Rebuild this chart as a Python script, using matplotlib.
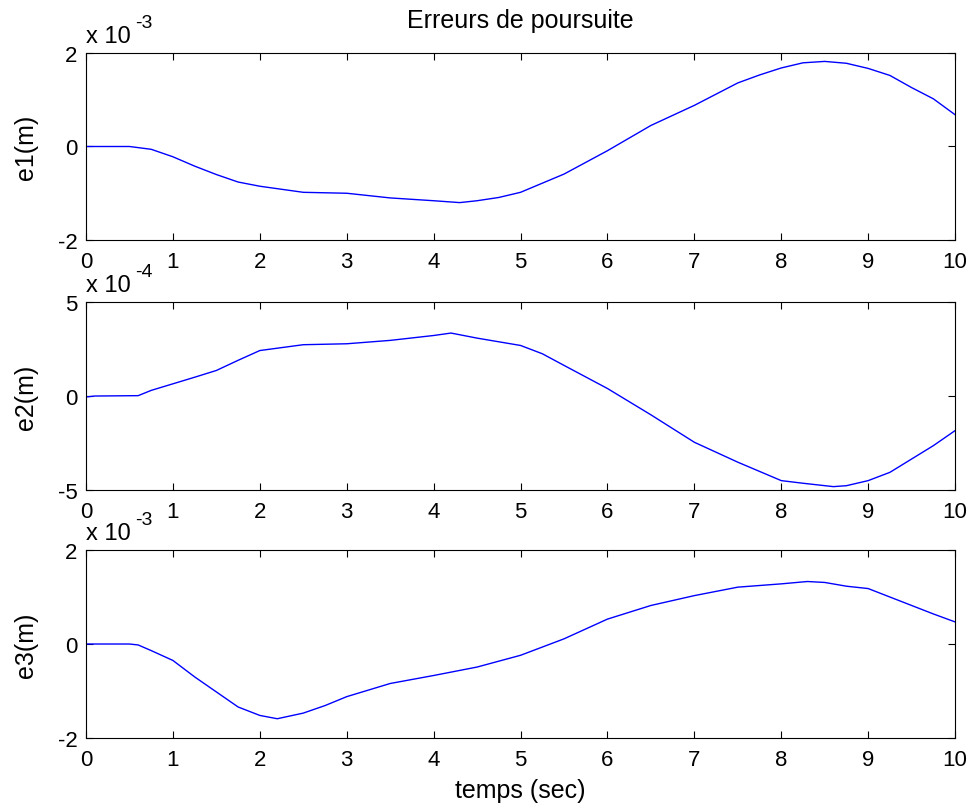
import matplotlib
matplotlib.use("Agg")
import matplotlib.pyplot as plt

plt.rcParams['font.family'] = ['Liberation Sans', 'DejaVu Sans']
plt.rcParams['axes.unicode_minus'] = False

# tracking errors, y values in units of the scale factor shown on each axis
t1 = [0, 0.5, 0.75, 1, 1.25, 1.5, 1.75, 2, 2.5, 3, 3.5, 4, 4.3, 4.5, 4.75, 5, 5.5, 6, 6.5, 7, 7.5,
      7.75, 8, 8.25, 8.5, 8.75, 9, 9.25, 9.5, 9.75, 10]
e1 = [0, 0, -0.06, -0.22, -0.42, -0.6, -0.76, -0.85, -0.98, -1.0, -1.1, -1.16, -1.2, -1.16, -1.09,
      -0.98, -0.59, -0.09, 0.45, 0.88, 1.36, 1.53, 1.68, 1.79, 1.82, 1.78, 1.67, 1.52, 1.26, 1.02, 0.68]

t2 = [0, 0.1, 0.6, 0.75, 1, 1.25, 1.5, 1.75, 2, 2.5, 3, 3.5, 4, 4.2, 4.5, 5, 5.25, 5.5, 6, 6.5, 7,
      7.5, 8, 8.25, 8.6, 8.75, 9, 9.25, 9.5, 9.75, 10]
e2 = [-0.05, 0, 0.02, 0.3, 0.65, 1.0, 1.36, 1.9, 2.42, 2.73, 2.78, 2.96, 3.22, 3.35, 3.08, 2.69, 2.25,
      1.63, 0.4, -1.0, -2.46, -3.52, -4.5, -4.64, -4.82, -4.77, -4.5, -4.06, -3.35, -2.64, -1.84]

t3 = [0, 0.5, 0.6, 0.75, 1, 1.25, 1.5, 1.75, 2, 2.2, 2.5, 2.75, 3, 3.5, 4, 4.5, 5, 5.5, 6, 6.5, 7,
      7.5, 8, 8.3, 8.5, 8.75, 9, 9.25, 9.5, 9.75, 10]
e3 = [0, 0, -0.02, -0.14, -0.35, -0.7, -1.02, -1.34, -1.52, -1.59, -1.47, -1.31, -1.12, -0.84, -0.67,
      -0.49, -0.24, 0.11, 0.53, 0.82, 1.03, 1.21, 1.28, 1.33, 1.31, 1.23, 1.18, 1.0, 0.82, 0.64, 0.47]

series = [(t1, e1, 'e1(m)', 2, '-3'), (t2, e2, 'e2(m)', 5, '-4'), (t3, e3, 'e3(m)', 2, '-3')]
positions = [[0.0886, 0.7032, 0.895, 0.2303],
             [0.0886, 0.3953, 0.895, 0.2315],
             [0.0886, 0.0899, 0.895, 0.2315]]

fig = plt.figure(figsize=(9.71, 8.12), dpi=100)
axes = []
for (t, e, label, lim, expo), pos in zip(series, positions):
    ax = fig.add_axes(pos)
    ax.plot(t, e, color='#0000ff', lw=1.0)
    ax.set_xlim(0, 10)
    ax.set_ylim(-lim, lim)
    ax.set_xticks(range(11))
    ax.set_yticks([-lim, 0, lim])
    ax.tick_params(direction='in', length=5, width=0.8, top=True, right=True, labelsize=16)
    ax.tick_params(axis='x', pad=8)
    ax.tick_params(axis='y', pad=6)
    for s in ax.spines.values():
        s.set_linewidth(0.8)
    ax.set_ylabel(label, fontsize=18)
    ax.yaxis.set_label_coords(-0.055, 0.5)
    # scale factor drawn above the y axis
    ax.text(0.0, 1.03, 'x 10', transform=ax.transAxes, fontsize=17, ha='left', va='bottom')
    ax.text(0.057, 1.115, expo, transform=ax.transAxes, fontsize=14, ha='left', va='bottom')
    axes.append(ax)

axes[0].set_title('Erreurs de poursuite', fontsize=18, pad=19)
axes[2].set_xlabel('temps (sec)', fontsize=18, labelpad=6)

fig.savefig('out.png', dpi=100, facecolor='white')
